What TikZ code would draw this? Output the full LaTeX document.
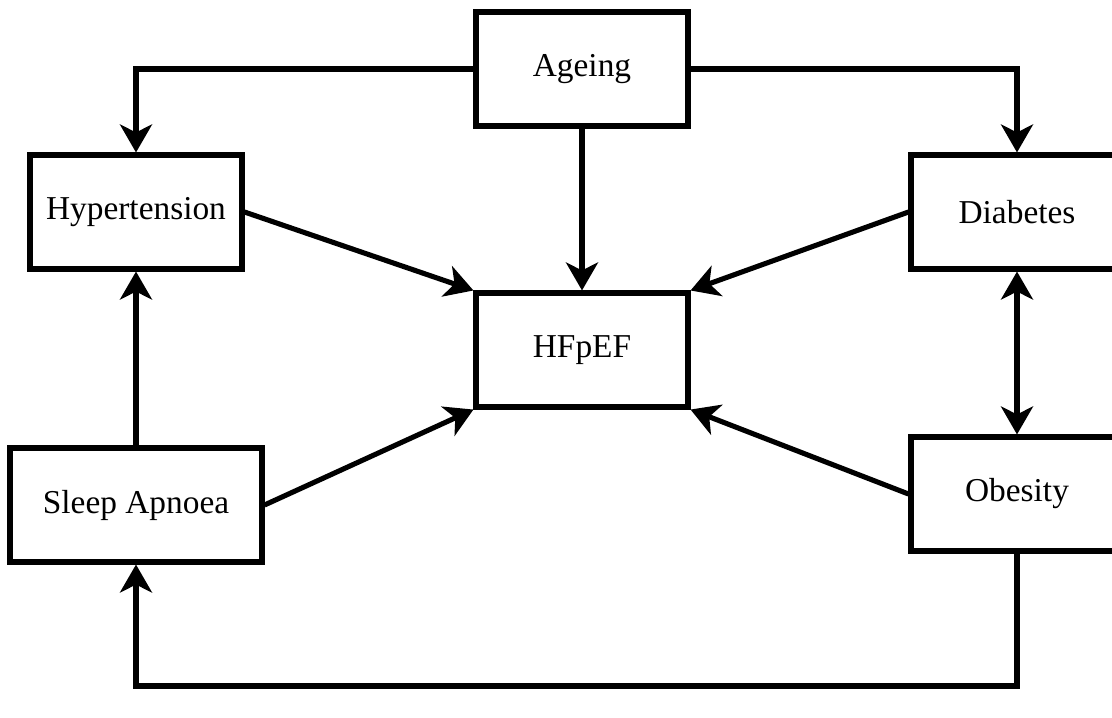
\documentclass[tikz,border=0pt]{standalone}
\usepackage{fontspec}
\setmainfont{Liberation Serif}
\usepackage{tikz}
\usetikzlibrary{arrows.meta}

\begin{document}
\begin{tikzpicture}[x=0.02cm,y=-0.02cm,
  factor/.style={draw,line width=2.9pt,fill=white,inner sep=0pt,
    minimum width=4.24cm,minimum height=2.28cm,font=\fontsize{19}{22}\selectfont},
  link/.style={line width=2.9pt,-{Stealth[length=0.56cm,width=0.64cm,inset=0.16cm]}},
  twoway/.style={line width=2.9pt,{Stealth[length=0.56cm,width=0.64cm,inset=0.16cm]}-{Stealth[length=0.56cm,width=0.64cm,inset=0.16cm]}}]
\useasboundingbox (0,0) rectangle (1112,717);
\node[factor] (ageing) at (582,69) {Ageing};
\node[factor] (hyper) at (136,212) {Hypertension};
\node[factor] (diab) at (1017,212) {Diabetes};
\node[factor] (hfpef) at (582,350) {HFpEF};
\node[factor,minimum width=5.04cm] (sleep) at (136,505) {Sleep Apnoea};
\node[factor] (obes) at (1017,494) {Obesity};
\coordinate (bend) at (582,686);
% connectors
\draw[link] (ageing.west) -| (hyper.north);
\draw[link] (ageing.east) -| (diab.north);
\draw[link] (ageing.south) -- (hfpef.north);
\draw[link] (hyper.east) -- (hfpef.north west);
\draw[link] (diab.west) -- (hfpef.north east);
\draw[link] (sleep.east) -- (hfpef.south west);
\draw[link] (obes.west) -- (hfpef.south east);
\draw[link] (sleep.north) -- (hyper.south);
\draw[twoway] (diab.south) -- (obes.north);
\draw[link] (obes.south) |- (bend) -| (sleep.south);
\end{tikzpicture}
\end{document}
